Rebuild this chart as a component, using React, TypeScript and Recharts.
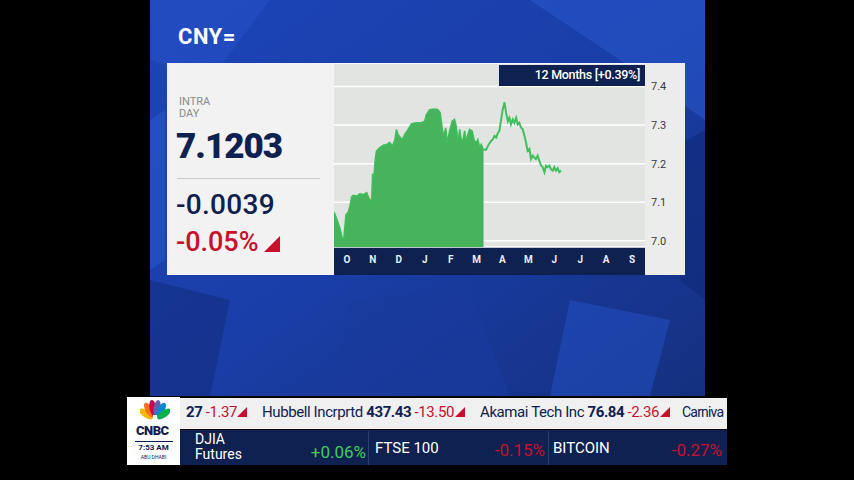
import React from 'react';
import { ComposedChart, Area, Line, XAxis, YAxis, CartesianGrid } from 'recharts';

// position along the 12-month axis (in months from start of October)
const months = [
  0.0, 0.1, 0.23, 0.33, 0.38, 0.46, 0.55, 0.62, 0.68, 0.74, 0.87, 1.0, 1.13, 1.26, 1.36, 1.45,
  1.49, 1.54, 1.59, 1.64, 1.77, 1.9, 2.03, 2.15, 2.26, 2.35, 2.41, 2.47, 2.56, 2.64, 2.73, 2.86,
  2.99, 3.18, 3.37, 3.5, 3.56, 3.69, 3.88, 4.01, 4.1, 4.18, 4.24, 4.31, 4.37, 4.46, 4.56, 4.65,
  4.72, 4.78, 4.85, 4.91, 4.97, 5.04, 5.1, 5.17, 5.23, 5.33, 5.42, 5.49, 5.55, 5.62, 5.68, 5.77,
  5.87, 5.97, 6.06, 6.13, 6.19, 6.26, 6.32, 6.38, 6.45, 6.51, 6.58, 6.64, 6.71, 6.77, 6.83, 6.9,
  6.96, 7.03, 7.09, 7.15, 7.22, 7.28, 7.35, 7.41, 7.47, 7.54, 7.6, 7.67, 7.73, 7.79, 7.86, 7.92,
  7.99, 8.05, 8.12, 8.18, 8.24, 8.31, 8.37, 8.44, 8.5, 8.56, 8.63, 8.69, 8.76,
];
const rates = [
  7.075, 7.058, 7.032, 7.003, 7.007, 7.067, 7.075, 7.092, 7.114, 7.118, 7.116, 7.122, 7.12, 7.125, 7.109, 7.101,
  7.174, 7.165, 7.212, 7.233, 7.242, 7.248, 7.25, 7.255, 7.246, 7.263, 7.289, 7.276, 7.268, 7.263, 7.276, 7.289,
  7.304, 7.306, 7.306, 7.31, 7.327, 7.34, 7.342, 7.34, 7.332, 7.289, 7.272, 7.293, 7.255, 7.285, 7.31, 7.315,
  7.297, 7.255, 7.289, 7.263, 7.259, 7.285, 7.259, 7.276, 7.289, 7.285, 7.259, 7.255, 7.263, 7.242, 7.25, 7.236,
  7.236, 7.25, 7.259, 7.263, 7.272, 7.268, 7.279, 7.285, 7.315, 7.34, 7.359, 7.332, 7.31, 7.319, 7.302, 7.315,
  7.306, 7.319, 7.302, 7.306, 7.293, 7.289, 7.272, 7.255, 7.233, 7.238, 7.212, 7.221, 7.216, 7.212, 7.221, 7.208,
  7.195, 7.191, 7.178, 7.195, 7.191, 7.195, 7.186, 7.182, 7.191, 7.182, 7.188, 7.178, 7.182,
];
const FILL_END = 5.77;
const monthLabels = ['O', 'N', 'D', 'J', 'F', 'M', 'A', 'M', 'J', 'J', 'A', 'S'];
const monthTicks = [0.5, 1.5, 2.5, 3.5, 4.5, 5.5, 6.5, 7.5, 8.5, 9.5, 10.5, 11.5];
const rateTicks = [7.0, 7.1, 7.2, 7.3, 7.4];

const data = months.map((m, i) => ({
  m,
  area: m <= FILL_END ? rates[i] : null,
  line: m >= FILL_END ? rates[i] : null,
}));

const NAVY = '#0f2150';
const RED = '#c8102e';
const FONT = 'Roboto, "Open Sans", sans-serif';

const abs = (l: number, t: number, extra: React.CSSProperties = {}): React.CSSProperties => ({
  position: 'absolute', left: l, top: t, ...extra,
});

const Tri = ({ l, t, s = 11, c = RED }: { l: number; t: number; s?: number; c?: string }) => (
  <svg style={abs(l, t)} width={s} height={s}>
    <polygon points={`0,${s} ${s},${s} ${s},0`} fill={c} />
  </svg>
);

export default function App() {
  return (
    <div style={{ position: 'absolute', left: 0, top: 0, width: 854, height: 480, background: '#000', overflow: 'hidden', fontFamily: FONT }}>
      {/* blue backdrop */}
      <svg style={abs(150, 0)} width={555} height={396}>
        <defs>
          <linearGradient id="bg" x1="0" y1="0" x2="1" y2="1">
            <stop offset="0" stopColor="#1d45b8" />
            <stop offset="0.5" stopColor="#1a3ea8" />
            <stop offset="1" stopColor="#14307f" />
          </linearGradient>
        </defs>
        <rect x={0} y={0} width={555} height={396} fill="url(#bg)" />
        <polygon points="0,0 120,0 60,80 0,60" fill="#2450c4" opacity={0.6} />
        <polygon points="380,0 555,0 555,120 470,60" fill="#2a5ad0" opacity={0.5} />
        <polygon points="520,150 555,130 555,300 530,280" fill="#0f2a78" opacity={0.6} />
        <polygon points="0,280 80,300 60,396 0,396" fill="#0f2a78" opacity={0.5} />
        <polygon points="200,300 320,290 360,396 180,396" fill="#1a3a9c" opacity={0.7} />
        <polygon points="420,300 520,320 500,396 400,396" fill="#2452c8" opacity={0.5} />
        <polygon points="0,120 15,110 15,260 0,270" fill="#2a5ad0" opacity={0.5} />
      </svg>

      {/* title */}
      <div style={abs(178, 24, { color: '#fff', fontWeight: 700, fontSize: 22, letterSpacing: 0.5 })}>CNY=</div>

      {/* panel */}
      <div style={abs(167, 63, { width: 518, height: 212, background: '#ececec' })} />
      <div style={abs(167, 63, { width: 167, height: 212, background: '#f2f2f2' })} />
      <div style={abs(334, 63, { width: 311, height: 184, background: '#e2e4e2' })} />
      <div style={abs(334, 247, { width: 311, height: 28, background: NAVY })} />

      <div style={abs(179, 96, { color: '#8a8a8a', fontSize: 11, lineHeight: '11px' })}>INTRA</div>
      <div style={abs(179, 108, { color: '#8a8a8a', fontSize: 11, lineHeight: '11px' })}>DAY</div>
      <div style={abs(176, 126, { color: NAVY, fontSize: 35, fontWeight: 900, letterSpacing: -1 })}>7.1203</div>
      <div style={abs(177, 178, { width: 143, height: 1, background: '#c8c8c8' })} />
      <div style={abs(176, 188, { color: NAVY, fontSize: 28, fontWeight: 500, letterSpacing: 0.3 })}>-0.0039</div>
      <div style={abs(176, 226, { color: RED, fontSize: 27, fontWeight: 500 })}>-0.05%</div>
      <Tri l={264} t={236} s={16} />

      {/* chart */}
      <div style={abs(334, 63)}>
        <ComposedChart width={351} height={212} data={data} margin={{ top: 0, right: 0, bottom: 0, left: 0 }}>
          <CartesianGrid horizontal vertical={false} stroke="#ffffff" strokeWidth={1.5} />
          <XAxis
            dataKey="m"
            type="number"
            domain={[0, 12]}
            ticks={monthTicks}
            tickFormatter={(v: number) => monthLabels[Math.floor(v)]}
            height={28}
            axisLine={false}
            tickLine={false}
            tickSize={0}
            tickMargin={9}
            tick={{ fill: '#e8ecf4', fontSize: 10, fontWeight: 700, fontFamily: FONT }}
            interval={0}
          />
          <YAxis
            orientation="right"
            width={40}
            type="number"
            domain={[6.984, 7.461]}
            allowDataOverflow
            ticks={rateTicks}
            tickFormatter={(v: number) => v.toFixed(1)}
            axisLine={false}
            tickLine={false}
            tickSize={0}
            tickMargin={6}
            tick={{ fill: '#3a3a3a', fontSize: 11, fontFamily: FONT }}
          />
          <Area
            dataKey="area"
            type="linear"
            stroke="#3fbf5a"
            strokeWidth={1.5}
            fill="#47b35c"
            fillOpacity={1}
            isAnimationActive={false}
            dot={false}
            activeDot={false}
          />
          <Line
            dataKey="line"
            type="linear"
            stroke="#3fc05a"
            strokeWidth={2}
            dot={false}
            activeDot={false}
            isAnimationActive={false}
          />
        </ComposedChart>
      </div>

      <div style={abs(499, 65, { width: 146, height: 21, background: NAVY })} />
      <div style={abs(499, 67, { width: 141, textAlign: 'right', color: '#fff', fontSize: 12.5, fontWeight: 500, letterSpacing: -0.3 })}>12 Months [+0.39%]</div>

      {/* ticker */}
      <div style={abs(127, 397, { width: 53, height: 68, background: '#fff' })} />
      <svg style={abs(140, 399)} width={30} height={26}>
        <ellipse cx={6} cy={15} rx={3.5} ry={8} fill="#f7b600" transform="rotate(-55 6 15)" />
        <ellipse cx={9} cy={11} rx={3.5} ry={8} fill="#f37021" transform="rotate(-30 9 11)" />
        <ellipse cx={13} cy={9} rx={3.5} ry={8} fill="#cc004c" transform="rotate(-10 13 9)" />
        <ellipse cx={17} cy={9} rx={3.5} ry={8} fill="#6460aa" transform="rotate(10 17 9)" />
        <ellipse cx={21} cy={11} rx={3.5} ry={8} fill="#0089d0" transform="rotate(30 21 11)" />
        <ellipse cx={24} cy={15} rx={3.5} ry={8} fill="#0db14b" transform="rotate(55 24 15)" />
        <rect x={13} y={16} width={4} height={10} fill="#fff" />
      </svg>
      <div style={abs(136, 423, { color: NAVY, fontSize: 13, fontWeight: 900, letterSpacing: -0.5 })}>CNBC</div>
      <div style={abs(135, 441, { width: 38, height: 1, background: NAVY })} />
      <div style={abs(127, 443, { width: 53, textAlign: 'center', color: NAVY, fontSize: 8, fontWeight: 700 })}>7:53 AM</div>
      <div style={abs(127, 454, { width: 53, textAlign: 'center', color: NAVY, fontSize: 5 })}>ABU DHABI</div>

      <div style={abs(180, 398, { width: 547, height: 31, background: '#f0f0f0', overflow: 'hidden' })}>
        <div style={{ position: 'absolute', left: 6, top: 5, whiteSpace: 'nowrap', fontSize: 15, color: NAVY, letterSpacing: -0.4 }}>
          <span style={{ fontWeight: 700 }}>27</span> <span style={{ color: RED }}>-1.37</span>
        </div>
        <Tri l={57} t={9} s={10} />
        <div style={{ position: 'absolute', left: 82, top: 5, whiteSpace: 'nowrap', fontSize: 15, color: NAVY, letterSpacing: -0.4 }}>
          Hubbell Incrprtd <span style={{ fontWeight: 700 }}>437.43</span> <span style={{ color: RED }}>-13.50</span>
        </div>
        <Tri l={275} t={9} s={10} />
        <div style={{ position: 'absolute', left: 300, top: 5, whiteSpace: 'nowrap', fontSize: 15, color: NAVY, letterSpacing: -0.4 }}>
          Akamai Tech Inc <span style={{ fontWeight: 700 }}>76.84</span> <span style={{ color: RED }}>-2.36</span>
        </div>
        <Tri l={480} t={9} s={10} />
        <div style={{ position: 'absolute', left: 502, top: 6, whiteSpace: 'nowrap', fontSize: 14, color: NAVY, letterSpacing: -0.8 }}>Carniva</div>
      </div>

      <div style={abs(180, 430, { width: 547, height: 35, background: NAVY })} />
      <div style={abs(195, 432, { color: '#fff', fontSize: 14, lineHeight: '15px' })}>DJIA<br />Futures</div>
      <div style={abs(300, 442, { width: 66, textAlign: 'right', color: '#3ecf5c', fontSize: 17 })}>+0.06%</div>
      <div style={abs(368, 431, { width: 1, height: 34, background: '#2c3f73' })} />
      <div style={abs(375, 439, { color: '#fff', fontSize: 15 })}>FTSE 100</div>
      <div style={abs(480, 440, { width: 65, textAlign: 'right', color: RED, fontSize: 17 })}>-0.15%</div>
      <div style={abs(548, 431, { width: 1, height: 34, background: '#2c3f73' })} />
      <div style={abs(553, 439, { color: '#fff', fontSize: 15 })}>BITCOIN</div>
      <div style={abs(655, 440, { width: 67, textAlign: 'right', color: RED, fontSize: 17 })}>-0.27%</div>
    </div>
  );
}
